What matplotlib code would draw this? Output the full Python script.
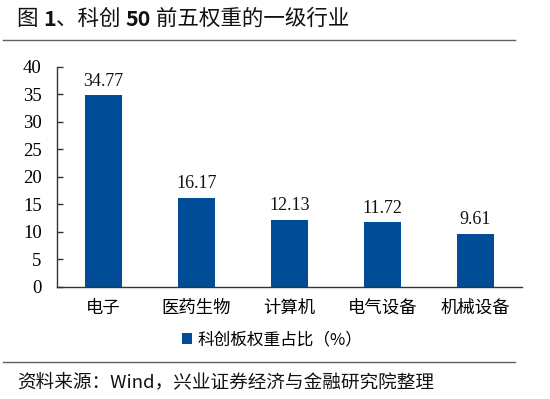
import matplotlib
matplotlib.use("Agg")
import matplotlib.pyplot as plt
from matplotlib.lines import Line2D
from matplotlib.transforms import offset_copy

# data
industries = ["电子", "医药生物", "计算机", "电气设备", "机械设备"]
weights = [34.77, 16.17, 12.13, 11.72, 9.61]
yticks = [0, 5, 10, 15, 20, 25, 30, 35, 40]
series_name = "科创板权重占比（%）"
title_parts = [("图 ", "normal"), ("1", "bold"), ("、科创 ", "normal"),
               ("50", "bold"), (" 前五权重的一级行业", "normal")]
source = "资料来源：Wind，兴业证券经济与金融研究院整理"

cjk = ["Noto Sans CJK SC", "DejaVu Sans"]
num = ["Liberation Serif", "DejaVu Serif"]
bar_color = "#004C97"
W, H = 550, 399

plt.rcParams["font.family"] = cjk

fig = plt.figure(figsize=(5.5, 3.99), dpi=100)
ax = fig.add_axes([57 / W, 1 - 286.7 / H, 465 / W, 220 / H])

x = list(range(len(industries)))
bars = ax.bar(x, weights, width=0.4, color=bar_color, label=series_name, zorder=2)

for xi, v in zip(x, weights):
    ax.annotate("%.2f" % v, (xi, v), xytext=(0, 4), textcoords="offset points",
                ha="center", va="bottom", fontsize=13, family=num, color="#111111")

ax.set_xlim(-0.5, len(industries) - 0.5)
ax.set_ylim(0, 40)
ax.set_yticks(yticks)
ax.set_yticklabels([str(t) for t in yticks], family=num, fontsize=13.5)
ax.set_xticks(x)
ax.set_xticklabels(industries, fontsize=12.5)

ax.spines["top"].set_visible(False)
ax.spines["right"].set_visible(False)
for s in ["left", "bottom"]:
    ax.spines[s].set_color("#333333")
    ax.spines[s].set_linewidth(1.0)
ax.tick_params(axis="y", direction="in", length=4, width=1, color="#333333", pad=11)
ax.tick_params(axis="x", length=0, pad=9)

fig.legend(handles=[bars], labels=[series_name], loc="center",
           bbox_to_anchor=(272 / W, 1 - 340 / H), frameon=False,
           handlelength=0.6, handleheight=0.6, handletextpad=0.3,
           prop={"family": cjk, "size": 12})

# title pieces: numbers bold, chinese medium
renderer = fig.canvas.get_renderer()
tx = 17.0
for txt, wt in title_parts:
    t = fig.text(tx / W, 1 - 19 / H, txt, fontsize=15.5,
                 fontweight="bold" if wt == "bold" else "medium",
                 va="center", ha="left", color="#111111")
    tx += t.get_window_extent(renderer).width

fig.add_artist(Line2D([3 / W, 515 / W], [1 - 40 / H] * 2, color="#606060", lw=1))
fig.add_artist(Line2D([3 / W, 515 / W], [1 - 362 / H] * 2, color="#606060", lw=1))
fig.text(17 / W, 1 - 382 / H, source, fontsize=13.4, va="center", ha="left",
         color="#111111")

fig.savefig("out.png", dpi=100)
